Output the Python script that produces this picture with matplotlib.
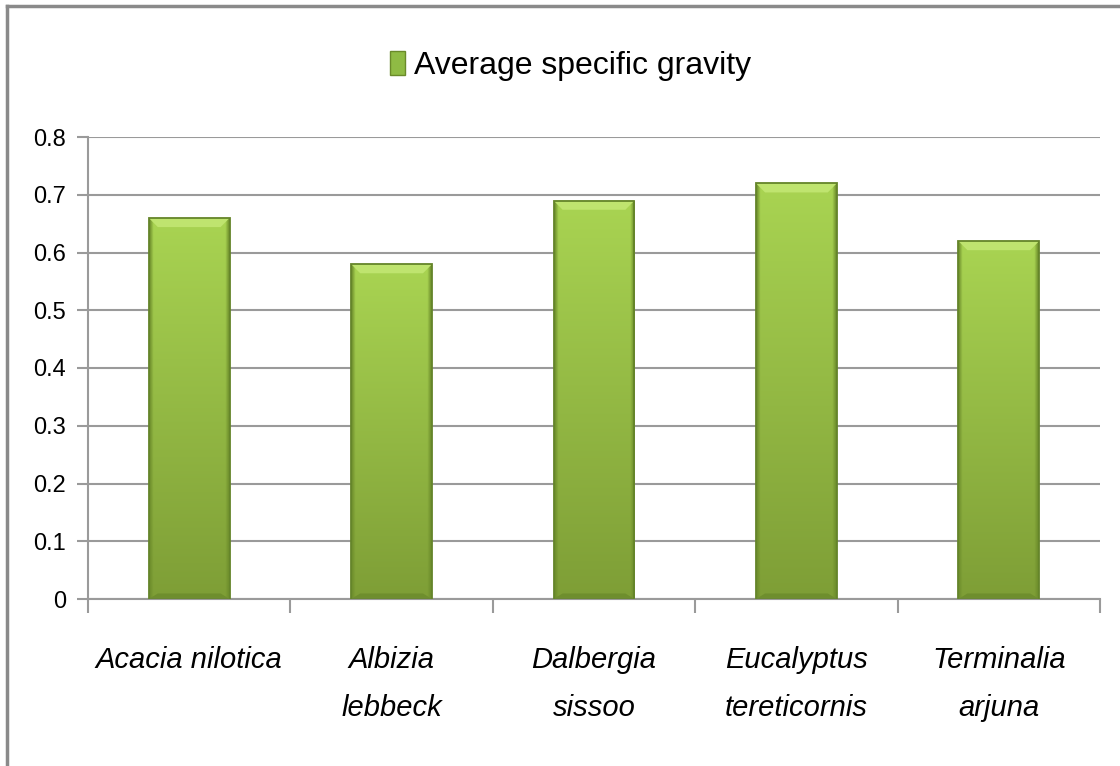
import numpy as np
import matplotlib
matplotlib.use("Agg")
import matplotlib.pyplot as plt
from matplotlib import font_manager
from matplotlib.patches import Polygon, Patch
from matplotlib.lines import Line2D
from matplotlib.colors import to_rgb

# data
species = ["Acacia nilotica", "Albizia\nlebbeck", "Dalbergia\nsissoo",
           "Eucalyptus\ntereticornis", "Terminalia\narjuna"]
gravity = [0.66, 0.58, 0.69, 0.72, 0.62]
yticks = [0, 0.1, 0.2, 0.3, 0.4, 0.5, 0.6, 0.7, 0.8]
series_name = "Average specific gravity"

# narrow font if we have it, else regular with smaller sizes
names = {f.name for f in font_manager.fontManager.ttflist}
if "Liberation Sans Narrow" in names:
    fam = ["Liberation Sans Narrow", "DejaVu Sans"]
    fs_tick, fs_cat, fs_leg, lsp = 20, 25, 28, 1.5
else:
    fam = ["Liberation Sans", "DejaVu Sans"]
    fs_tick, fs_cat, fs_leg, lsp = 17, 21, 23, 1.9
plt.rcParams["font.family"] = fam

fig = plt.figure(figsize=(11.2, 7.66), dpi=100)
ax = fig.add_axes([88 / 1120, 1 - 599 / 766, 1012 / 1120, 462 / 766])

x = np.arange(len(species))
w = 0.4
bars = ax.bar(x, gravity, width=w, color="none", edgecolor="#65852a",
              linewidth=1.3, zorder=3)

top_c = np.array(to_rgb("#a9d452"))
bot_c = np.array(to_rgb("#7e9e36"))
edge_c = np.array(to_rgb("#6c8c2b"))
ny, nx = 200, 60
ty = np.linspace(0, 1, ny)[:, None, None]
col = top_c * (1 - ty) + bot_c * ty
col = np.repeat(col, nx, axis=1)
tx = np.linspace(-1, 1, nx)
edge = np.clip((np.abs(tx) - 0.9) / 0.1, 0, 1)[None, :, None]
grad = col * (1 - edge) + edge_c * edge

bev_y = 0.016
bev_x = 0.045
for b, v in zip(bars, gravity):
    x0 = b.get_x()
    im = ax.imshow(grad, extent=[x0, x0 + w, 0, v], aspect="auto",
                   zorder=2, interpolation="bilinear")
    im.set_clip_path(b)
    ax.add_patch(Polygon([[x0, v], [x0 + w, v], [x0 + w - bev_x, v - bev_y],
                          [x0 + bev_x, v - bev_y]], closed=True,
                         facecolor="#bfe46f", edgecolor="none", zorder=2.5))
    ax.add_patch(Polygon([[x0, 0], [x0 + w, 0], [x0 + w - bev_x, bev_y * 0.6],
                          [x0 + bev_x, bev_y * 0.6]], closed=True,
                         facecolor="#6e8e2d", edgecolor="none", zorder=2.5))

ax.set_xlim(-0.5, len(species) - 0.5)
ax.set_ylim(0, 0.8)
ax.set_yticks(yticks)
ax.set_yticklabels([f"{t:g}" for t in yticks], fontsize=fs_tick)
ax.yaxis.grid(True, color="#9a9a9a", linewidth=1.5, zorder=0)
ax.set_axisbelow(True)

ax.set_xticks(x)
ax.set_xticklabels(species, fontsize=fs_cat, style="italic", linespacing=lsp,
                   va="top")
ax.set_xticks(np.arange(-0.5, len(species)), minor=True)
ax.tick_params(axis="x", which="major", length=0, pad=34)
ax.tick_params(axis="x", which="minor", length=10, color="#9a9a9a", width=1.5)
ax.tick_params(axis="y", length=8, color="#9a9a9a", width=1.5, pad=8)

for s in ["top", "right"]:
    ax.spines[s].set_visible(False)
for s in ["left", "bottom"]:
    ax.spines[s].set_color("#9a9a9a")
    ax.spines[s].set_linewidth(1.5)

handle = Patch(facecolor="#8fbb44", edgecolor="#6a8a2a", linewidth=1)
fig.legend([handle], [series_name], loc="center",
           bbox_to_anchor=(571 / 1120, 1 - 66 / 766), frameon=False,
           fontsize=fs_leg, handlelength=0.45, handleheight=0.75,
           handletextpad=0.3)

# outer frame (left and top edges)
fig.add_artist(Line2D([7 / 1120, 7 / 1120], [0, 1 - 6 / 766],
                      transform=fig.transFigure, color="#8a8a8a", lw=2.5))
fig.add_artist(Line2D([7 / 1120, 1], [1 - 6 / 766, 1 - 6 / 766],
                      transform=fig.transFigure, color="#8a8a8a", lw=2.5))

fig.savefig("out.png", dpi=100)
